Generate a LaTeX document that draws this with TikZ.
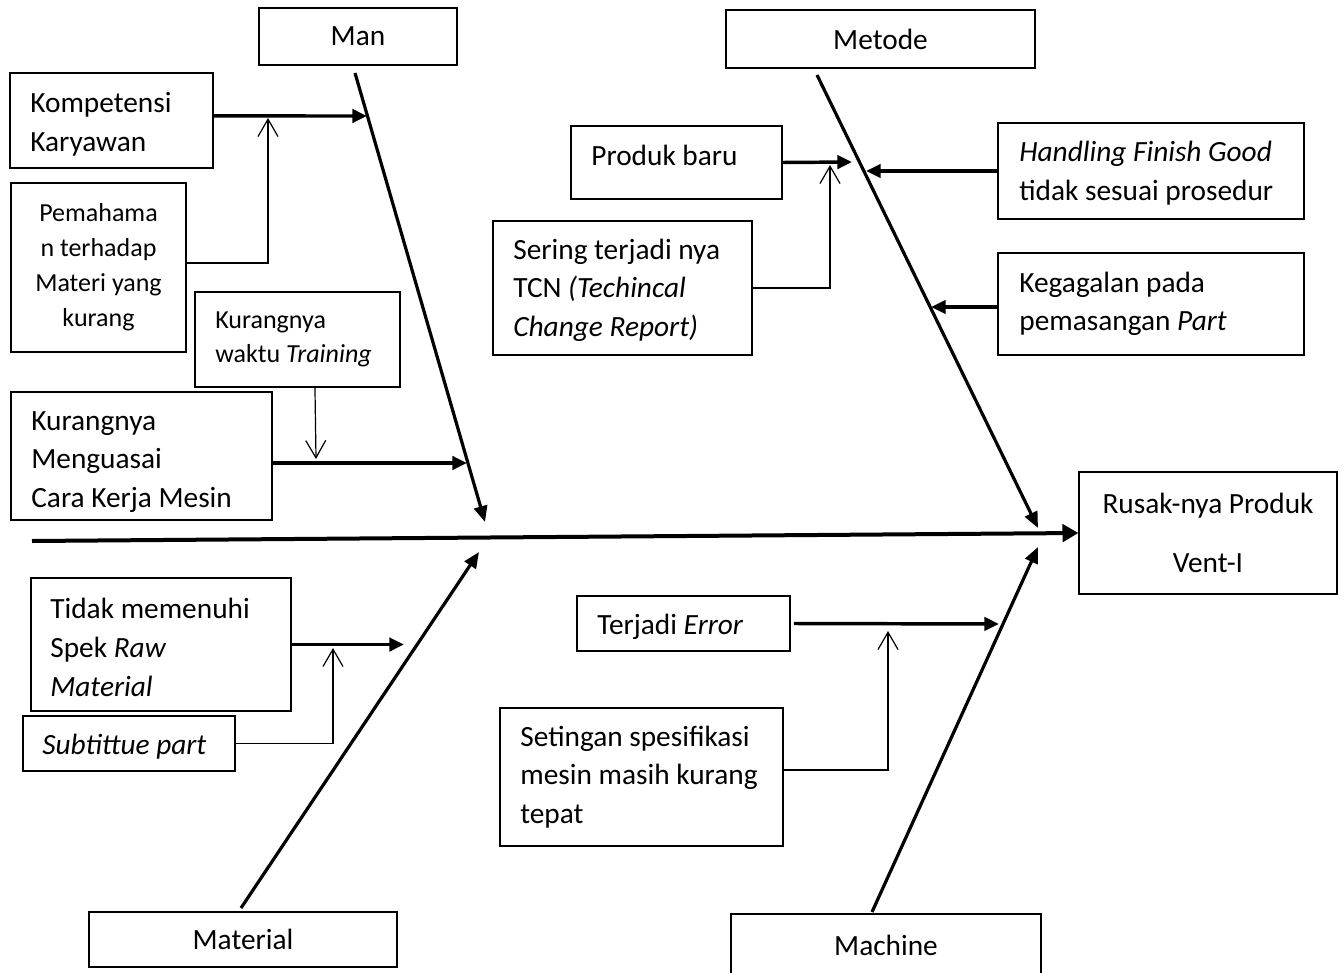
\documentclass[tikz,border=0pt]{standalone}
\usepackage{fontspec}
\setmainfont{Carlito}
\usetikzlibrary{arrows.meta,calc}
\newcommand\bigf{\fontsize{22}{29}\selectfont}
\newcommand\smallf{\fontsize{19.5}{26.25}\selectfont}
\newcommand\trainf{\fontsize{19.5}{25.5}\selectfont}
\begin{document}
\begin{tikzpicture}[x=0.75pt,y=-0.75pt,
  catbox/.style={draw, line width=0.8pt, inner sep=0pt, font=\bigf},
  cbox/.style={draw, line width=1.4pt, inner sep=0pt},
  lbl/.style={inner sep=0pt, align=left, font=\bigf, anchor=west},
  wh/.style 2 args={minimum width=#1*0.75pt, minimum height=#2*0.75pt},
  bone/.style={line width=2.4pt, -{Triangle[length=12pt,width=10pt]}},
  spine/.style={line width=3pt, -{Triangle[length=12pt,width=13pt]}},
  feed/.style={line width=2.6pt, -{Triangle[length=11pt,width=10pt]}},
  sub/.style={line width=0.9pt, -{Straight Barb[length=13pt,width=15pt]}}]
\useasboundingbox (0,0) rectangle (1344,973);

% category boxes
\node[catbox, wh={198}{57}] (man) at (358,36.5) {Man};
\node[catbox, wh={309}{58}] (met) at (880.5,39) {Metode};
\node[catbox, wh={308}{55}] (mat) at (243,939.5) {Material};
\node[catbox, wh={310}{62}] (mac) at (886,945) {Machine};
\node[catbox, wh={258}{122}, align=center] (rusak) at (1208,533) {Rusak-nya Produk\\[15pt]Vent-I};

% cause boxes
\node[cbox, wh={203}{95}] (komp) at (111.5,120.5) {};
\node[lbl] (kompt) at ([xshift=15.75pt,yshift=-3pt]komp.west) {Kompetensi\\Karyawan};

\node[cbox, wh={175}{169}, align=center, font=\smallf] (pema) at (98.5,267.5) {Pemahama\\n terhadap\\Materi yang\\kurang};

\node[cbox, wh={205}{95}] (train) at (297.5,339.5) {};
\node[lbl, font=\trainf] (traint) at ([xshift=15.75pt]train.west) {Kurangnya\\waktu \textit{Training}};

\node[cbox, wh={261}{128}] (kmes) at (141.5,456) {};
\node[lbl] (kmest) at ([xshift=15.75pt,yshift=-4.5pt]kmes.west) {Kurangnya\\Menguasai\\Cara Kerja Mesin};

\node[cbox, wh={211}{73}] (prod) at (676.5,162.5) {};
\node[lbl] (prodt) at ([xshift=15.75pt,yshift=5pt]prod.west) {Produk baru};

\node[cbox, wh={259}{134}] (sering) at (622.5,288) {};
\node[lbl] (seringt) at ([xshift=15.75pt,yshift=-1.5pt]sering.west) {Sering terjadi nya\\TCN \textit{(Techincal}\\\textit{Change Report)}};

\node[cbox, wh={306}{96}] (hand) at (1151,171) {};
\node[lbl] (handt) at ([xshift=16.5pt,yshift=-1.5pt]hand.west) {\textit{Handling Finish Good}\\tidak sesuai prosedur};

\node[cbox, wh={306}{102}] (keg) at (1151,304) {};
\node[lbl] (kegt) at ([xshift=16.5pt]keg.west) {Kegagalan pada\\pemasangan \textit{Part}};

\node[cbox, wh={260}{133}] (tidak) at (161,644.5) {};
\node[lbl] (tidakt) at ([xshift=15pt,yshift=-2.25pt]tidak.west) {Tidak memenuhi\\Spek \textit{Raw}\\\textit{Material}};

\node[cbox, wh={212}{55}] (subt) at (129,743.5) {};
\node[lbl] (subtt) at ([xshift=15pt,yshift=-2.25pt]subt.west) {\textit{Subtittue part}};

\node[cbox, wh={213}{55}] (terj) at (683.5,623.5) {};
\node[lbl] (terjt) at ([xshift=15.75pt,yshift=-2.25pt]terj.west) {Terjadi \textit{Error}};

\node[cbox, wh={283}{138}] (set) at (641.5,777) {};
\node[lbl] (sett) at ([xshift=15.75pt]set.west) {Setingan spesifikasi\\mesin masih kurang\\tepat};

% coordinates
\coordinate (sp) at (32,541);
\coordinate (manS) at (355,73);   \coordinate (manT) at (485,522);
\coordinate (metS) at (817,75);   \coordinate (metT) at (1038,528);
\coordinate (matS) at (241,908);  \coordinate (matT) at (479,552);
\coordinate (macS) at (872,912);  \coordinate (macT) at (1038,547);
\coordinate (m1) at (367,116);  \coordinate (j1) at (268,118);
\coordinate (j3) at (316,459);  \coordinate (m2) at (467,463);
\coordinate (t1) at (852,162);  \coordinate (j5) at (830,165);
\coordinate (t2) at (866,171);  \coordinate (t3) at (931,307);
\coordinate (b1) at (404,644.5);  \coordinate (j10) at (333,648);
\coordinate (b2) at (999,624);  \coordinate (j12) at (888,631);

% spine and bones
\draw[spine] (sp) -- (rusak.west);
\draw[bone] (manS) -- (manT);
\draw[bone] (metS) -- (metT);
\draw[bone] (matS) -- (matT);
\draw[bone] (macS) -- (macT);

% feeders
\draw[feed] ([yshift=3.4pt]komp.east) -- (m1);
\draw[sub] ([yshift=3.4pt]pema.east) -| (j1);
\draw[sub] ([xshift=13.1pt]train.south) -- (j3);
\draw[feed] ([yshift=-5.25pt]kmes.east) -- (m2);
\draw[feed] (prod.east) -- (t1);
\draw[sub] (sering.east) -| (j5);
\draw[feed] (hand.west) -- (t2);
\draw[feed] ([yshift=-2.25pt]keg.west) -- (t3);
\draw[feed] (tidak.east) -- (b1);
\draw[sub] (subt.east) -| (j10);
\draw[feed] ([xshift=2.25pt]terj.east) -- (b2);
\draw[sub] ([yshift=5.25pt]set.east) -| (j12);
\end{tikzpicture}
\end{document}
